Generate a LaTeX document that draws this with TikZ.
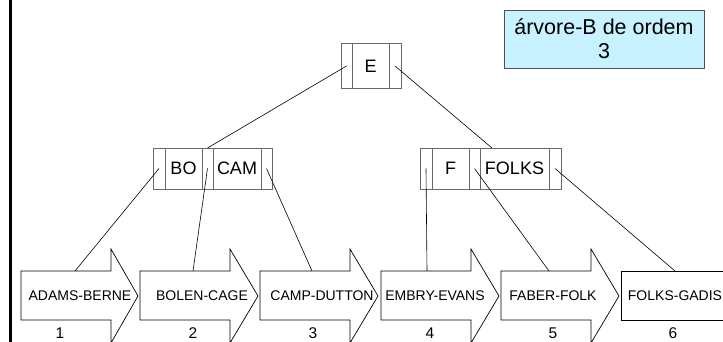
\documentclass[tikz,border=0pt]{standalone}
\usepackage{fontspec}
\setmainfont{Liberation Sans}
\definecolor{cellgray}{RGB}{105,105,105}
\definecolor{infofill}{RGB}{200,242,255}
\definecolor{infoedge}{RGB}{80,80,80}
\begin{document}
\begin{tikzpicture}[x=1pt,y=-1pt,
  cell/.style={draw=cellgray, line width=0.9pt, inner sep=0pt, outer sep=0pt,
    minimum height=41pt, anchor=west, font=\fontsize{18}{20}\selectfont},
  ecell/.style={cell, minimum height=45pt},
  leafshape/.style={draw=black, line width=0.7pt},
  leaftext/.style={inner sep=0pt, font=\fontsize{14}{16}\selectfont},
  numtext/.style={inner sep=0pt, font=\fontsize{15.5}{17}\selectfont},
  link/.style={draw=black, line width=0.6pt},
  infobox/.style={draw=infoedge, fill=infofill, line width=0.8pt, inner sep=0pt,
    minimum width=200pt, minimum height=58pt, align=center,
    font=\fontsize{21.5}{24}\selectfont}
]
\useasboundingbox (0,0) rectangle (723,342);
\clip (0,0) rectangle (723,342);

% left border bar
\fill[black] (9,0) rectangle (12,342);

% info box
\node[infobox] (info) at (604,39) {árvore-B de ordem\\3};

% root node E
\node[ecell, minimum width=11pt] (e0) at (341,66) {};
\node[ecell, minimum width=37pt] (ek) at (352,66) {E};
\node[ecell, minimum width=12pt] (e1) at (389,66) {};

% node BO | CAM
\node[cell, minimum width=12pt] (a0) at (153,168.5) {};
\node[cell, minimum width=37pt] (ak1) at (165,168.5) {BO};
\node[cell, minimum width=11pt] (a1) at (202,168.5) {};
\node[cell, minimum width=48pt] (ak2) at (213,168.5) {CAM};
\node[cell, minimum width=11pt] (a2) at (261,168.5) {};

% node F | FOLKS
\node[cell, minimum width=12pt] (b0) at (420,168.5) {};
\node[cell, minimum width=37pt] (bk1) at (432,168.5) {F};
\node[cell, minimum width=11pt] (b1) at (469,168.5) {};
\node[cell, minimum width=69pt] (bk2) at (480,168.5) {FOLKS};
\node[cell, minimum width=12pt] (b2) at (549,168.5) {};

% leaves (arrow shapes)
\draw[leafshape] (21,271) -- (111,271) -- (111,249) -- (138,296) -- (111,343) -- (111,320) -- (21,320) -- cycle;
\draw[leafshape] (140,271) -- (230,271) -- (230,249) -- (258,296) -- (230,343) -- (230,320) -- (140,320) -- cycle;
\draw[leafshape] (260,271) -- (350,271) -- (350,249) -- (378,296) -- (350,343) -- (350,320) -- (260,320) -- cycle;
\draw[leafshape] (381,271) -- (471,271) -- (471,249) -- (499,296) -- (471,343) -- (471,320) -- (381,320) -- cycle;
\draw[leafshape] (501,271) -- (591,271) -- (591,249) -- (619,296) -- (591,343) -- (591,320) -- (501,320) -- cycle;
\draw[leafshape] (740,271) -- (621,271) -- (621,320) -- (740,320);

\node[leaftext] (l1) at (80,296) {ADAMS-BERNE};
\node[leaftext] (l2) at (202,296) {BOLEN-CAGE};
\node[leaftext] (l3) at (322,296) {CAMP-DUTTON};
\node[leaftext] (l4) at (435,296) {EMBRY-EVANS};
\node[leaftext] (l5) at (553,296) {FABER-FOLK};
\node[leaftext] (l6) at (675,296) {FOLKS-GADIS};

\node[numtext] (n1) at (60,333.5) {1};
\node[numtext] (n2) at (193,333.5) {2};
\node[numtext] (n3) at (313,333.5) {3};
\node[numtext] (n4) at (430,333.5) {4};
\node[numtext] (n5) at (553,333.5) {5};
\node[numtext] (n6) at (673,333.5) {6};

% leaf attachment points
\coordinate (t1) at (75,271);
\coordinate (t2) at (193,271);
\coordinate (t3) at (312,271);
\coordinate (t4) at (427,271);
\coordinate (t5) at (549,271);
\coordinate (t6) at (675,271);
\coordinate (fk) at (492,148);

% connectors
\draw[link] (e0.center) -- (a1.north);
\draw[link] (e1.center) -- (fk);
\draw[link] (a0.center) -- (t1);
\draw[link] (a1.center) -- (t2);
\draw[link] (a2.center) -- (t3);
\draw[link] (b0.center) -- (t4);
\draw[link] (b1.center) -- (t5);
\draw[link] (b2.center) -- (t6);
\end{tikzpicture}
\end{document}
